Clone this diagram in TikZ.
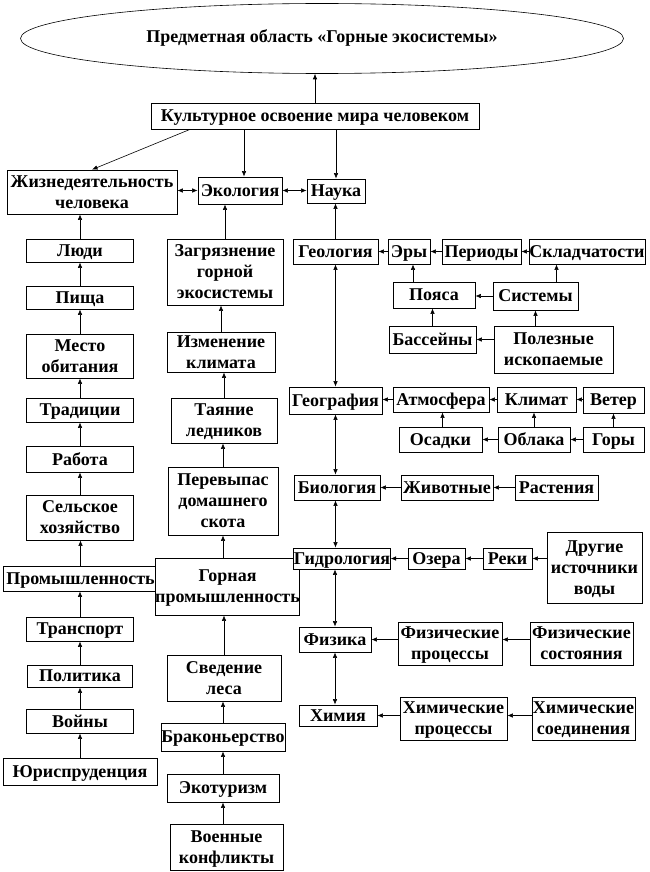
\documentclass[tikz,border=0pt]{standalone}
\usepackage{fontspec}
\setmainfont{Liberation Serif}
\usetikzlibrary{shapes.geometric,arrows.meta}
\tikzset{
  box/.style={draw=black, line width=0.8pt, inner sep=0pt, align=center, text depth=0pt,
    font=\fontsize{18}{21}\selectfont\bfseries, fill=white},
  ell/.style={draw=black, line width=0.6pt, ellipse, inner sep=0pt, align=center,
    font=\fontsize{18}{21}\selectfont\bfseries},
  arr/.style={line width=0.6pt, -{Latex[length=5.5pt,width=4.5pt]}},
  darr/.style={line width=0.6pt, {Latex[length=5.5pt,width=4.5pt]}-{Latex[length=5.5pt,width=4.5pt]}},
}
\newcommand{\bx}[6]{\node[box, minimum width=#4pt, minimum height=#5pt] (#1) at (#2,#3) {#6};}
\begin{document}
\begin{tikzpicture}[x=1pt,y=-1pt]
\useasboundingbox[fill=white] (0,0) rectangle (649,872);
% top
\node[ell, minimum width=603pt, minimum height=70pt] (ell) at (322,38.5) {\raisebox{4pt}{Предметная область «Горные экосистемы»}};
\bx{kult}{315}{116}{328}{26}{Культурное освоение мира человеком}
\bx{zhizn}{92}{192}{170}{44}{Жизнедеятельность\\человека}
\bx{ecol}{240}{190.5}{84}{27}{Экология}
\bx{nauka}{336}{191}{58}{24}{Наука}
% left column
\bx{ljudi}{80}{250.5}{107}{23}{Люди}
\bx{pishcha}{80}{297.5}{107}{23}{Пища}
\bx{mesto}{80}{356}{107}{44}{Место\\обитания}
\bx{trad}{80}{410}{107}{24}{Традиции}
\bx{rabota}{80}{459}{107}{26}{Работа}
\bx{selsk}{80}{517.5}{107}{45}{Сельское\\хозяйство}
\bx{prom}{80.5}{578.5}{155}{25}{Промышленность}
\bx{transp}{80}{629}{107}{24}{Транспорт}
\bx{polit}{80}{676}{105}{22}{Политика}
\bx{voiny}{80}{721}{107}{24}{Войны}
\bx{jur}{80}{771.5}{154}{27}{Юриспруденция}
% middle column
\bx{zagr}{225}{272}{116}{66}{Загрязнение\\горной\\экосистемы}
\bx{izmen}{221}{352}{108}{40}{Изменение\\климата}
\bx{tayan}{224}{420.5}{106}{45}{Таяние\\ледников}
\bx{perev}{223}{501}{110}{68}{Перевыпас\\домашнего\\скота}
\bx{gorprom}{227.5}{586.5}{129}{57}{Горная\\промышленность}
\bx{sveden}{224}{678}{114}{46}{Сведение\\леса}
\bx{brak}{223}{737}{124}{28}{Браконьерство}
\bx{ekotur}{223}{788}{112}{28}{Экотуризм}
\bx{voen}{226.5}{847}{113}{46}{Военные\\конфликты}
% right: geology
\bx{geol}{335.5}{251.5}{85}{25}{Геология}
\bx{ery}{409}{251.5}{42}{25}{Эры}
\bx{period}{481.5}{251.5}{79}{25}{Периоды}
\bx{sklad}{587}{251.5}{116}{25}{Складчатости}
\bx{poyasa}{434}{295}{82}{26}{Пояса}
\bx{sistemy}{535.5}{296}{85}{28}{Системы}
\bx{bass}{432.5}{339.5}{87}{27}{Бассейны}
\bx{polez}{553.5}{349.5}{119}{47}{Полезные\\ископаемые}
% geography
\bx{geog}{335.5}{400.5}{93}{27}{География}
\bx{atm}{441}{399.5}{96}{25}{Атмосфера}
\bx{klimat}{536.5}{399.5}{79}{25}{Климат}
\bx{veter}{613.5}{400}{61}{26}{Ветер}
\bx{osadki}{440.5}{439.5}{83}{25}{Осадки}
\bx{oblaka}{534}{439.5}{72}{25}{Облака}
\bx{gory}{613.5}{439.5}{61}{25}{Горы}
% biology
\bx{bio}{337}{487.5}{86}{25}{Биология}
\bx{zhiv}{447}{487.5}{92}{25}{Животные}
\bx{rast}{556.5}{487.5}{83}{25}{Растения}
% hydrology
\bx{hydro}{342}{558.5}{96}{21}{Гидрология}
\bx{ozera}{436.5}{558.5}{57}{21}{Озера}
\bx{reki}{507.5}{558.5}{49}{21}{Реки}
\bx{drugie}{594.5}{567.5}{95}{71}{Другие\\источники\\воды}
% physics
\bx{fiz}{335}{639.5}{72}{25}{Физика}
\bx{fizproc}{450}{643.5}{104}{43}{Физические\\процессы}
\bx{fizsost}{581.5}{643.5}{103}{43}{Физические\\состояния}
% chemistry
\bx{him}{338}{715.5}{78}{21}{Химия}
\bx{himproc}{453.5}{718.5}{107}{43}{Химические\\процессы}
\bx{himsoed}{583.5}{718.5}{103}{43}{Химические\\соединения}

% top connectors
\draw[arr] (kult.north) -- (kult.north |- ell.south);
\draw[arr] ([xshift=-125pt]kult.south) -- (zhizn.north);
\draw[arr] ([xshift=4pt]ecol.north |- kult.south) -- ([xshift=4pt]ecol.north);
\draw[arr] (nauka.north |- kult.south) -- (nauka.north);
\draw[darr] (zhizn.east |- ecol.west) -- (ecol.west);
\draw[darr] (ecol.east) -- (ecol.east -| nauka.west);
% left column
\draw[arr] (ljudi.north) -- (ljudi.north |- zhizn.south);
\draw[arr] (pishcha.north) -- (ljudi.south);
\draw[arr] (mesto.north) -- (pishcha.south);
\draw[arr] (trad.north) -- (mesto.south);
\draw[arr] (rabota.north) -- (trad.south);
\draw[arr] (selsk.north) -- (rabota.south);
\draw[arr] (prom.north) -- (prom.north |- selsk.south);
\draw[arr] (transp.north) -- (transp.north |- prom.south);
\draw[arr] (polit.north) -- (transp.south);
\draw[arr] (voiny.north) -- (polit.south);
\draw[arr] (jur.north) -- (voiny.south);
% middle column
\draw[arr] (zagr.north) -- (zagr.north |- ecol.south);
\draw[arr] (izmen.north) -- (izmen.north |- zagr.south);
\draw[arr] (tayan.north) -- (tayan.north |- izmen.south);
\draw[arr] (perev.north) -- (perev.north |- tayan.south);
\draw[arr] (perev.south |- gorprom.north) -- (perev.south);
\draw[arr] (sveden.north) -- (sveden.north |- gorprom.south);
\draw[arr] (brak.north) -- (brak.north |- sveden.south);
\draw[arr] (ekotur.north) -- (ekotur.north |- brak.south);
\draw[arr] (ekotur.south |- voen.north) -- (ekotur.south);
% geology
\draw[arr] (geol.north) -- (geol.north |- nauka.south);
\draw[arr] (ery.west) -- (geol.east);
\draw[arr] (period.west) -- (ery.east);
\draw[arr] (sklad.west) -- (period.east);
\draw[arr] ([xshift=4pt]ery.south |- poyasa.north) -- ([xshift=4pt]ery.south);
\draw[arr] ([xshift=21pt]sistemy.north) -- ([xshift=21pt]sistemy.north |- sklad.south);
\draw[arr] (sistemy.west) -- (sistemy.west -| poyasa.east);
\draw[arr] (bass.north) -- (bass.north |- poyasa.south);
\draw[arr] (sistemy.south |- polez.north) -- (sistemy.south);
\draw[arr] (polez.west |- bass.east) -- (bass.east);
\draw[darr] (geol.south) -- (geol.south |- geog.north);
% geography
\draw[arr] (atm.west) -- (atm.west -| geog.east);
\draw[arr] (klimat.west) -- (atm.east);
\draw[arr] (veter.west |- klimat.east) -- (klimat.east);
\draw[arr] ([xshift=2pt]osadki.north) -- ([xshift=2pt]osadki.north |- atm.south);
\draw[arr] (oblaka.north) -- (oblaka.north |- klimat.south);
\draw[arr] (gory.north) -- (gory.north |- veter.south);
\draw[arr] (oblaka.west) -- (osadki.east);
\draw[arr] (gory.west) -- (oblaka.east);
\draw[darr] (geog.south) -- (geog.south |- bio.north);
% biology
\draw[arr] (zhiv.west) -- (bio.east);
\draw[arr] (rast.west) -- (zhiv.east);
\draw[darr] (bio.south -| geog.south) -- (geog.south |- hydro.north);
% hydrology
\draw[arr] (ozera.west) -- (hydro.east);
\draw[arr] (reki.west) -- (ozera.east);
\draw[arr] (drugie.west |- reki.east) -- (reki.east);
\draw[darr] (fiz.north |- hydro.south) -- (fiz.north);
% physics
\draw[arr] (fizproc.west |- fiz.east) -- (fiz.east);
\draw[arr] (fizsost.west |- fiz.east) -- (fizproc.east |- fiz.east);
\draw[darr] (fiz.south) -- (fiz.south |- him.north);
% chemistry
\draw[arr] (himproc.west |- him.east) -- (him.east);
\draw[arr] (himsoed.west |- him.east) -- (himproc.east |- him.east);
\end{tikzpicture}
\end{document}
